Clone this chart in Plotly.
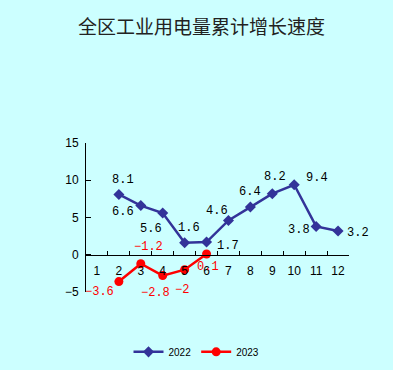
import plotly.graph_objects as go

months = ["1", "2", "3", "4", "5", "6", "7", "8", "9", "10", "11", "12"]
months_2022 = ["2", "3", "4", "5", "6", "7", "8", "9", "10", "11", "12"]
values_2022 = [8.1, 6.6, 5.6, 1.6, 1.7, 4.6, 6.4, 8.2, 9.4, 3.8, 3.2]
months_2023 = ["2", "3", "4", "5", "6"]
values_2023 = [-3.6, -1.2, -2.8, -2, 0.1]
y_ticks = [-5, 0, 5, 10, 15]

# label pixel offsets (style): (dx, dy) with dy positive downward
off_2022 = [(4, -14), (-17.5, 6), (-11.4, 15.7), (4.6, -15), (21, 4), (-11.5, -9),
            (0, -15), (3, -17), (22.5, -7), (-17, 4), (19.5, 2)]
off_2023 = [(-19, 10), (7.5, -16.7), (-7.4, 17), (-2.4, 20.4), (1, 12.5)]


def fmt(v):
    return str(v).replace("-", "\u2212")


BG = "#ccffff"
BLUE = "#333399"
RED = "#ff0000"

fig = go.Figure()
fig.add_trace(go.Scatter(
    x=months_2022, y=values_2022, name="2022", mode="lines+markers",
    line=dict(color=BLUE, width=2.5),
    marker=dict(symbol="diamond", size=8.5, color=BLUE),
))
fig.add_trace(go.Scatter(
    x=months_2023, y=values_2023, name="2023", mode="lines+markers",
    line=dict(color=RED, width=2.5),
    marker=dict(symbol="circle", size=9, color=RED),
))

annotations = []
for xs, ys, offs, col in ((months_2022, values_2022, off_2022, "black"),
                          (months_2023, values_2023, off_2023, RED)):
    for xv, yv, (dx, dy) in zip(xs, ys, offs):
        annotations.append(dict(
            x=months.index(xv), y=yv, xref="x", yref="y", text=fmt(yv),
            showarrow=False, xanchor="center", yanchor="middle",
            xshift=dx, yshift=-dy,
            font=dict(family="Liberation Mono", size=12, color=col),
        ))

fig.update_layout(
    width=393, height=370,
    paper_bgcolor=BG, plot_bgcolor=BG,
    margin=dict(l=86, r=44, t=143, b=78, autoexpand=False),
    title=dict(text="全区工业用电量累计增长速度", xref="container", x=0.513,
               xanchor="center", yref="container", y=0.927, yanchor="middle",
               font=dict(family="Noto Sans CJK SC", size=19, color="#222222")),
    showlegend=True,
    legend=dict(orientation="h", xref="container", x=0.5, xanchor="center",
                yref="container", y=0.049, yanchor="middle",
                font=dict(family="Liberation Sans", size=10, color="black"),
                bgcolor="rgba(0,0,0,0)", itemwidth=30),
    annotations=annotations,
    xaxis=dict(type="category", categoryorder="array", categoryarray=months,
               range=[-0.5, 11.5], anchor="free", position=0.25,
               showline=True, linecolor="black", linewidth=1,
               ticks="inside", ticklen=4, tickcolor="black", tickson="boundaries",
               tickangle=0, showgrid=False, zeroline=False, ticklabelstandoff=5,
               tickfont=dict(family="Liberation Sans", size=12, color="black")),
    yaxis=dict(range=[-5, 15], tickvals=y_ticks, domain=[0, 1],
               showline=True, linecolor="black", linewidth=1,
               ticks="inside", ticklen=5, tickcolor="black",
               showgrid=False, zeroline=False, ticklabelstandoff=4,
               tickfont=dict(family="Liberation Sans", size=12, color="black")),
)

fig.write_html("out.html", config={"displayModeBar": False},
               post_script="document.body.style.margin='0';")
